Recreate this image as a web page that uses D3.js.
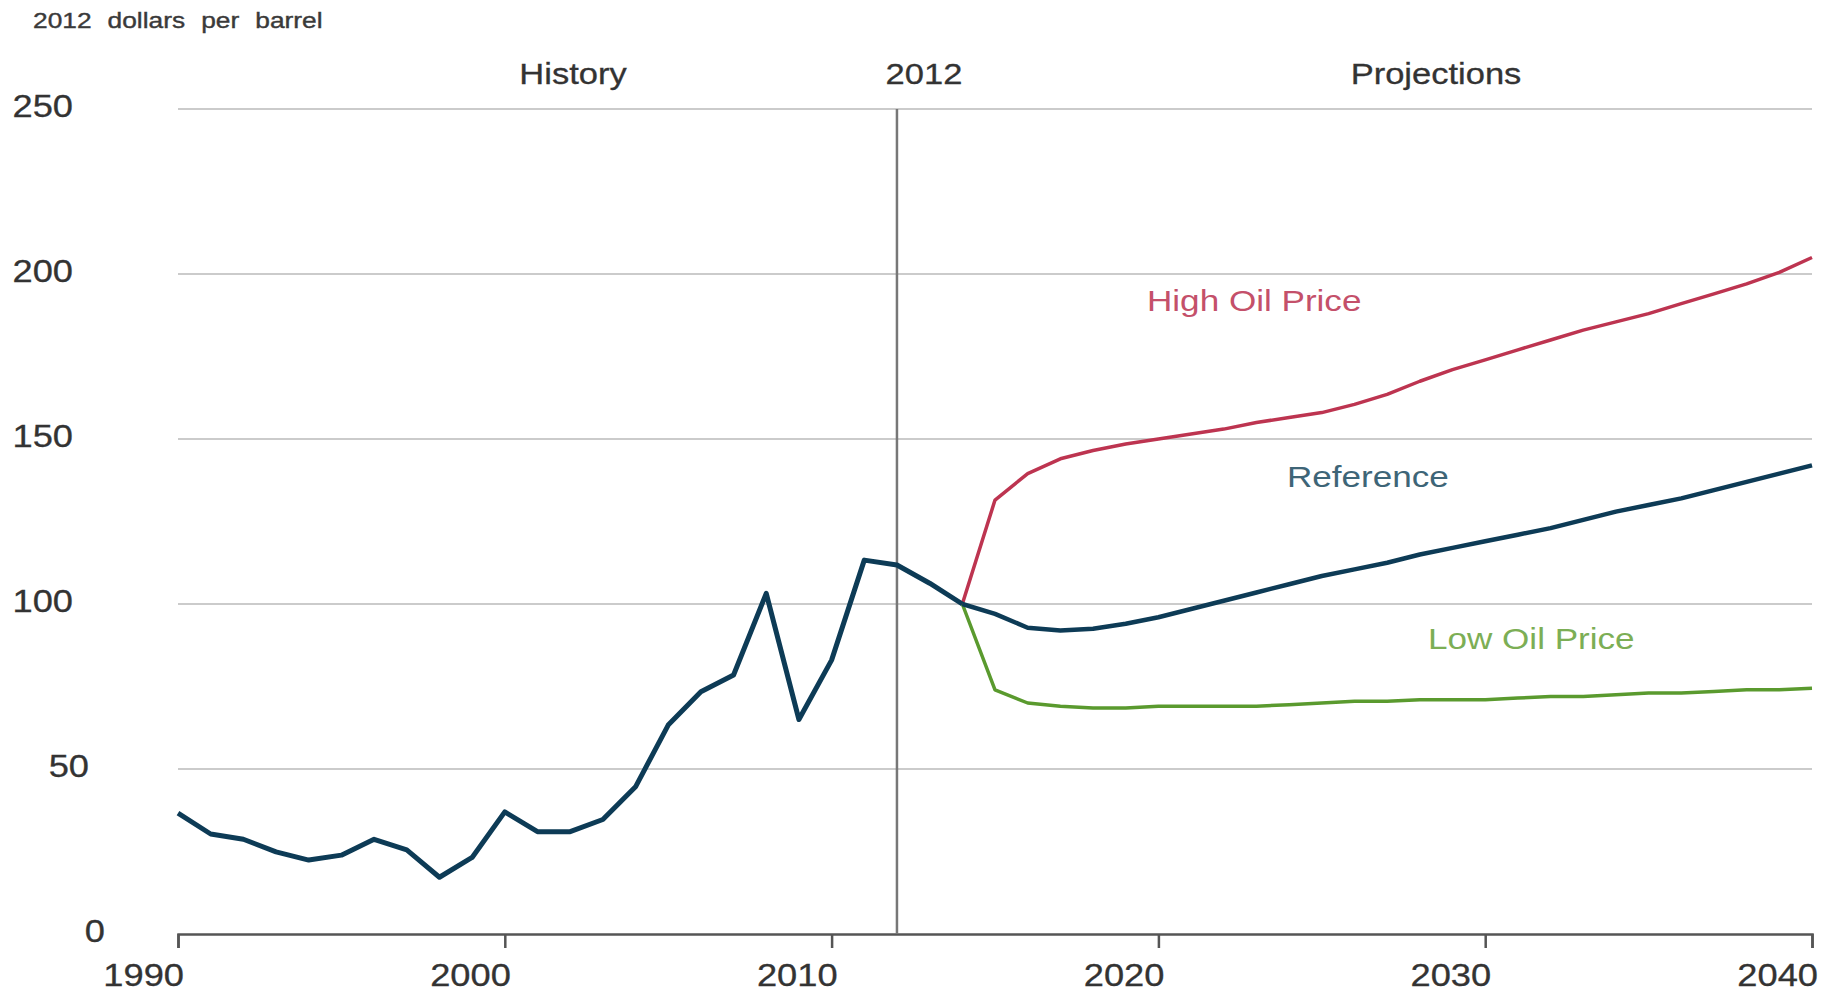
<!DOCTYPE html>
<html>
<head>
<meta charset="utf-8">
<script src="https://cdn.jsdelivr.net/npm/d3@7"></script>
<style>
  html, body { margin: 0; padding: 0; background: #ffffff; }
  svg { display: block; }
  text { font-family: "Liberation Sans", Arial, sans-serif; }
</style>
</head>
<body>
<svg id="chart" width="1829" height="991"></svg>
<script>
// ---------------- data ----------------
const historyYears = [1990,1991,1992,1993,1994,1995,1996,1997,1998,1999,2000,2001,2002,2003,2004,2005,2006,2007,2008,2009,2010,2011,2012,2013,2014];
const historyValues = [36.6,30.3,28.7,24.9,22.4,23.9,28.7,25.5,17.2,23.2,37,31,31,34.7,44.6,63.3,73.4,78.5,103.2,65,83,113.3,111.8,106.3,100];

const projYears = [2014,2015,2016,2017,2018,2019,2020,2021,2022,2023,2024,2025,2026,2027,2028,2029,2030,2031,2032,2033,2034,2035,2036,2037,2038,2039,2040];
const referenceValues = [100,97,92.8,92,92.5,94,96,98.5,101,103.5,106,108.5,110.5,112.5,115,117,119,121,123,125.5,128,130,132,134.5,137,139.5,142];
const highValues = [100,131.5,139.5,144,146.5,148.5,150,151.5,153,155,156.5,158,160.5,163.5,167.5,171,174,177,180,183,185.5,188,191,194,197,200.5,205];
const lowValues = [100,74,70,69,68.5,68.5,69,69,69,69,69.5,70,70.5,70.5,71,71,71,71.5,72,72,72.5,73,73,73.5,74,74,74.5];

const xTicks = [1990,2000,2010,2020,2030,2040];
const yTicks = [0,50,100,150,200,250];
const dividerYear = 2012;
const unitLabel = "2012 dollars per barrel";
const sectionLabels = ["History", "2012", "Projections"];
const seriesLabels = ["High Oil Price", "Reference", "Low Oil Price"];

// ---------------- layout ----------------
const svg = d3.select("#chart");
const plotL = 178, plotR = 1812, plotT = 109, plotB = 934;
const SX = 1.17; // horizontal stretch of glyphs seen in the reference

const x = d3.scaleLinear().domain([1990, 2040]).range([plotL, plotR]);
const y = d3.scaleLinear().domain([0, 250]).range([plotB, plotT]);

function stretchedText(g, tx, ty, str, opts) {
  const t = g.append("g").attr("transform", `translate(${tx},${ty}) scale(${opts.sx || SX},1)`)
    .append("text")
    .attr("x", 0).attr("y", 0)
    .attr("text-anchor", opts.anchor || "start")
    .attr("dominant-baseline", opts.baseline || "alphabetic")
    .attr("font-size", opts.size)
    .attr("fill", opts.fill || "#333")
    .text(str);
  if (opts.weight) t.attr("font-weight", opts.weight);
  if (opts.ls) t.attr("letter-spacing", opts.ls);
  if (opts.ws) t.attr("word-spacing", opts.ws);
  if (opts.stroke) t.attr("stroke", opts.fill).attr("stroke-width", opts.stroke);
  return t;
}

// gridlines
svg.append("g").selectAll("line").data(yTicks.filter(d => d > 0)).join("line")
  .attr("x1", plotL).attr("x2", plotR)
  .attr("y1", d => y(d)).attr("y2", d => y(d))
  .attr("stroke", "#cbcbcb").attr("stroke-width", 2.2);

// y tick labels (shorter labels sit further right, as in the reference)
const yLab = svg.append("g");
yTicks.forEach(d => {
  const s = String(d);
  stretchedText(yLab, 73 + (3 - s.length) * 16, y(d) - 3, s, {anchor: "end", baseline: "central", size: 31, fill: "#333", stroke: 0.3});
});

// x axis
const xAxis = d3.axisBottom(x).tickValues(xTicks).tickSize(14).tickFormat("");
const gx = svg.append("g").attr("transform", `translate(0,${plotB})`).call(xAxis);
gx.select(".domain").attr("stroke", "#555").attr("stroke-width", 2.5);
gx.selectAll(".tick line").attr("stroke", "#555").attr("stroke-width", 2.5);
const xLab = svg.append("g");
xTicks.forEach(d => {
  stretchedText(xLab, x(d) + 6, 986, String(d), {anchor: "end", size: 31, fill: "#333", stroke: 0.3});
});

// divider line
svg.append("line")
  .attr("x1", x(dividerYear)).attr("x2", x(dividerYear))
  .attr("y1", y(250)).attr("y2", plotB)
  .attr("stroke", "#777").attr("stroke-width", 2.5);

// section labels
const sec = svg.append("g");
stretchedText(sec, 573, 84, sectionLabels[0], {anchor: "middle", size: 29.5, fill: "#333", stroke: 0.3});
stretchedText(sec, 924, 84, sectionLabels[1], {anchor: "middle", size: 29.5, fill: "#333", stroke: 0.3});
stretchedText(sec, 1436, 84, sectionLabels[2], {anchor: "middle", size: 29.5, fill: "#333", stroke: 0.3});

// unit label
stretchedText(svg, 33, 28, unitLabel, {size: 22.5, fill: "#3a3a3a", ws: 7.5, stroke: 0.4});

// lines
const line = d3.line().x(d => x(d[0])).y(d => y(d[1]));
const zip = (a, b) => a.map((v, i) => [v, b[i]]);

svg.append("path").datum(zip(projYears, highValues)).attr("d", line)
  .attr("fill", "none").attr("stroke", "#bd3450").attr("stroke-width", 3.5).attr("stroke-linejoin", "round");
svg.append("path").datum(zip(projYears, lowValues)).attr("d", line)
  .attr("fill", "none").attr("stroke", "#5a9a2e").attr("stroke-width", 3.5).attr("stroke-linejoin", "round");
svg.append("path").datum(zip(projYears, referenceValues)).attr("d", line)
  .attr("fill", "none").attr("stroke", "#0d3b56").attr("stroke-width", 4.5).attr("stroke-linejoin", "round");
svg.append("path").datum(zip(historyYears, historyValues)).attr("d", line)
  .attr("fill", "none").attr("stroke", "#0d3b56").attr("stroke-width", 5).attr("stroke-linejoin", "round");

// series labels
const sl = svg.append("g");
stretchedText(sl, 1147, 311, seriesLabels[0], {size: 30, fill: "#c4506a"});
stretchedText(sl, 1287, 487, seriesLabels[1], {size: 30, fill: "#3e6577"});
stretchedText(sl, 1428, 649, seriesLabels[2], {size: 30, fill: "#7cae55"});
</script>
</body>
</html>
